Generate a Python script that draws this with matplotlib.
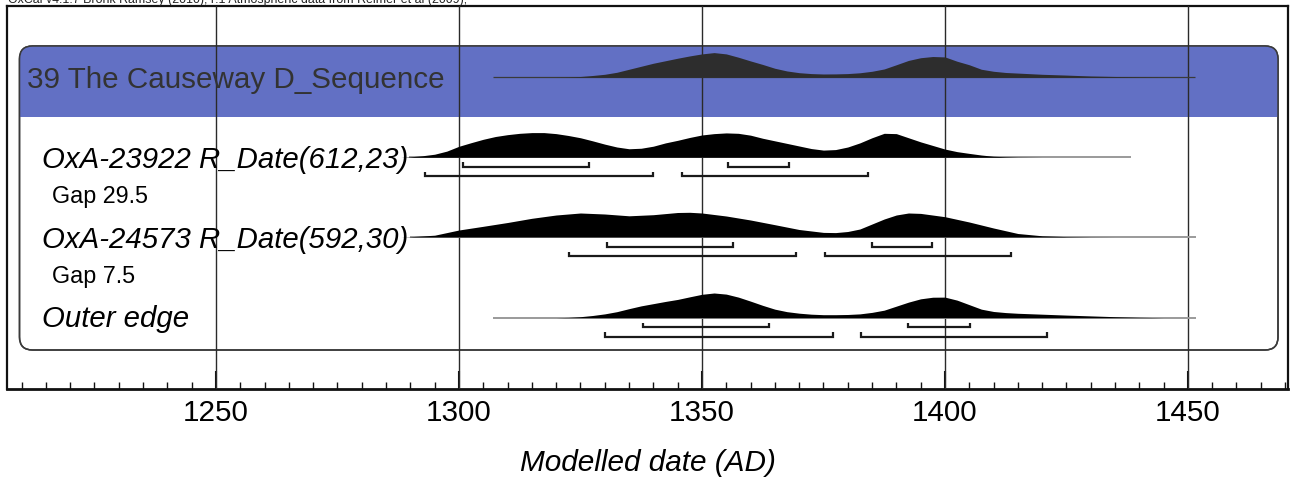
import matplotlib
matplotlib.use('Agg')
import matplotlib.pyplot as plt
from matplotlib.patches import FancyBboxPatch, Rectangle

plt.rcParams['font.family'] = ['Liberation Sans', 'DejaVu Sans']

# ---------------- data ----------------
title_text = "OxCal v4.1.7 Bronk Ramsey (2010); r:1 Atmospheric data from Reimer et al (2009);"
sequence_label = "39 The Causeway D_Sequence"
row_labels = ["OxA-23922 R_Date(612,23)", "OxA-24573 R_Date(592,30)", "Outer edge"]
gap_labels = ["Gap 29.5", "Gap 7.5"]
x_label = "Modelled date (AD)"
major_ticks = [1250, 1300, 1350, 1400, 1450]

seq_years = [1320, 1322.5, 1325, 1327.5, 1330, 1332.5, 1335, 1337.5, 1340, 1342.5,
             1345, 1347.5, 1350, 1352.5, 1355, 1357.5, 1360, 1362.5, 1365, 1367.5,
             1370, 1372.5, 1375, 1377.5, 1380, 1382.5, 1385, 1387.5, 1390, 1392.5,
             1395, 1397.5, 1400, 1402.5, 1405, 1407.5, 1410, 1412.5, 1415,
             1420, 1425, 1430, 1435, 1440, 1445]
seq_dens = [0, 0.2, 0.8, 1.8, 3.0, 5.0, 8.0, 11.0, 14.0, 16.5,
            19.0, 21.3, 23.3, 24.6, 23.3, 20.0, 16.3, 12.8, 9.0, 6.3,
            4.6, 3.7, 3.3, 3.4, 3.7, 4.5, 6.0, 8.3, 12.5, 16.8,
            19.5, 20.7, 20.3, 16.0, 12.5, 8.0, 6.0, 4.8, 4.2,
            3.0, 2.2, 1.3, 0.8, 0.3, 0]
seq_span = [1307.1, 1451.5]

oxa1_years = [1288, 1290, 1292.5, 1295, 1297.5, 1300, 1302.5, 1305, 1307.5, 1310,
              1312.5, 1315, 1317.5, 1320, 1322.5, 1325, 1327.5, 1330, 1332.5, 1335,
              1337.5, 1340, 1342.5, 1345, 1347.5, 1350, 1352.5, 1355, 1357.5, 1360,
              1362.5, 1365, 1367.5, 1370, 1372.5, 1375, 1377.5, 1380, 1382.5, 1385,
              1387.5, 1390, 1392.5, 1395, 1397.5, 1400, 1402.5, 1405, 1407.5, 1410,
              1412.5, 1415, 1420]
oxa1_dens = [0, 0.5, 1.5, 3.0, 6.0, 10.7, 14.2, 17.5, 20.2, 22.0,
             23.3, 24.0, 24.0, 23.0, 21.2, 19.0, 16.0, 12.8, 10.0, 8.3,
             8.8, 10.8, 14.0, 16.5, 19.3, 21.7, 23.0, 23.7, 23.3, 21.5,
             18.5, 16.0, 13.5, 11.0, 8.5, 7.0, 7.5, 10.0, 14.0, 19.0,
             23.3, 23.0, 19.0, 15.0, 11.5, 8.0, 5.5, 3.8, 2.2, 1.0,
             0.5, 0.2, 0]
oxa1_span = [1289.7, 1438.3]
oxa1_r68 = [(1300.8, 1326.7), (1355.3, 1368.0)]
oxa1_r95 = [(1293.1, 1339.9), (1345.8, 1384.2)]

oxa2_years = [1288, 1290, 1295, 1300, 1305, 1310, 1315, 1320, 1325, 1330,
              1335, 1340, 1345, 1347.5, 1350, 1355, 1360, 1365, 1370, 1375,
              1377.5, 1380, 1382.5, 1385, 1387.5, 1390, 1392.5, 1395, 1400, 1405,
              1410, 1415, 1420, 1425, 1430, 1435]
oxa2_dens = [0, 0.3, 1.8, 7.0, 10.7, 14.5, 18.7, 22.0, 24.0, 23.0,
             21.2, 22.3, 24.5, 24.7, 24.0, 21.0, 17.0, 12.3, 7.5, 4.6,
             4.4, 5.5, 8.0, 13.0, 18.0, 22.0, 24.0, 23.6, 20.3, 15.0,
             9.0, 3.5, 1.2, 0.4, 0.1, 0]
oxa2_span = [1289.9, 1451.7]
oxa2_r68 = [(1330.5, 1356.3), (1385.0, 1397.4)]
oxa2_r95 = [(1322.6, 1369.4), (1375.4, 1413.5)]

outer_years = seq_years
outer_dens = [0, 0.3, 1.0, 2.2, 3.8, 6.0, 9.0, 11.8, 14.0, 16.2,
              18.2, 20.8, 23.3, 24.6, 23.5, 20.5, 16.5, 12.3, 8.5, 6.0,
              4.5, 3.5, 3.0, 3.0, 3.2, 3.8, 5.3, 7.5, 11.5, 15.5,
              18.8, 20.4, 20.5, 17.5, 13.0, 8.5, 6.2, 5.1, 4.4,
              3.5, 2.6, 1.8, 1.0, 0.4, 0]
outer_span = [1307.1, 1451.7]
outer_r68 = [(1337.9, 1363.8), (1392.4, 1405.1)]
outer_r95 = [(1330.1, 1376.9), (1382.8, 1421.1)]

# ---------------- layout ----------------
W, H = 1291, 480
XMIN, XMAX = 1207.0, 1470.6
AX_L, AX_R, AX_T, AX_B = 7, 1288, 6, 389
PEAK_PX = 24.7

fig = plt.figure(figsize=(W / 100, H / 100), dpi=100)
ax = fig.add_axes([AX_L / W, 1 - AX_B / H, (AX_R - AX_L) / W, (AX_B - AX_T) / H])
ax.set_xlim(XMIN, XMAX)
ax.set_ylim(AX_B, AX_T)  # y in pixel rows (top = small)
PXPY = (AX_R - AX_L) / (XMAX - XMIN)


def px2yr(px):
    return XMIN + (px - AX_L) / PXPY


# rounded box with blue header band
bx0, bx1 = px2yr(19.5), px2yr(1278)
by0, by1 = 46, 350
rad_px = 13
box = FancyBboxPatch((bx0, by0), bx1 - bx0, by1 - by0,
                     boxstyle=f"round,pad=0,rounding_size={rad_px / PXPY}",
                     mutation_aspect=PXPY, facecolor='white', edgecolor='#3a3a3a',
                     lw=1.1, zorder=1)
ax.add_patch(box)
band = Rectangle((bx0, by0), bx1 - bx0, 117.5 - by0, facecolor='#6270C4',
                 edgecolor='none', zorder=1.5)
ax.add_patch(band)
band.set_clip_path(box)
box2 = FancyBboxPatch((bx0, by0), bx1 - bx0, by1 - by0,
                      boxstyle=f"round,pad=0,rounding_size={rad_px / PXPY}",
                      mutation_aspect=PXPY, facecolor='none', edgecolor='#3a3a3a',
                      lw=1.1, zorder=2)
ax.add_patch(box2)

# vertical grid lines
for t in major_ticks:
    ax.axvline(t, color='#2a2a2a', lw=1.0, zorder=3)


def draw_dist(years, dens, span, base, fill_color, line_color, line_w):
    m = max(dens)
    ax.plot(span, [base, base], color=line_color, lw=line_w, zorder=4,
            solid_capstyle='butt')
    ax.fill_between(years, [base] * len(years),
                    [base - d / m * PEAK_PX for d in dens],
                    color=fill_color, lw=0, zorder=5)


def draw_ranges(r68, r95, base):
    for rngs, off in ((r68, 9.6), (r95, 19.2)):
        y = base + off
        for a, b in rngs:
            ax.plot([a, a, b, b], [y - 4.5, y, y, y - 4.5], color='#1a1a1a',
                    lw=1.6, zorder=6, solid_joinstyle='miter', solid_capstyle='butt')


draw_dist(seq_years, seq_dens, seq_span, 77.3, '#2d2d2d', '#3a3a3a', 0.9)
draw_dist(oxa1_years, oxa1_dens, oxa1_span, 157.3, 'black', '#9a9a9a', 1.4)
draw_dist(oxa2_years, oxa2_dens, oxa2_span, 237.0, 'black', '#9a9a9a', 1.4)
draw_dist(outer_years, outer_dens, outer_span, 317.7, 'black', '#9a9a9a', 1.4)
draw_ranges(oxa1_r68, oxa1_r95, 157.3)
draw_ranges(oxa2_r68, oxa2_r95, 237.0)
draw_ranges(outer_r68, outer_r95, 317.7)

# labels
ax.text(px2yr(27), 88.3, sequence_label, fontsize=21.3, color='#333333',
        va='baseline', ha='left', zorder=7)
label_rows = [168.3, 248.3, 326.7]
for lab, yb in zip(row_labels, label_rows):
    ax.text(px2yr(42), yb, lab, fontsize=21.2, style='italic', color='black',
            va='baseline', ha='left', zorder=7)
for lab, yb in zip(gap_labels, [203.3, 283.3]):
    ax.text(px2yr(52), yb, lab, fontsize=16.8, color='black',
            va='baseline', ha='left', zorder=7)

# axes styling
for s in ['left', 'right', 'top']:
    ax.spines[s].set_linewidth(1.6)
    ax.spines[s].set_color('#111111')
ax.spines['bottom'].set_linewidth(2.0)
ax.spines['bottom'].set_color('#111111')
ax.set_yticks([])
ax.set_xticks(major_ticks)
ax.set_xticklabels([str(t) for t in major_ticks])
ax.set_xticks(list(range(1210, 1471, 5)), minor=True)
ax.tick_params(axis='x', which='major', direction='in', length=13, width=1.5,
               labelsize=21.3, pad=7.5, color='#111111')
ax.tick_params(axis='x', which='minor', direction='in', length=5, width=1.0,
               color='#111111')

fig.text(647.5 / W, 1 - 471 / H, x_label, fontsize=21.4, style='italic',
         ha='center', va='baseline')
fig.text(8 / W, 1 - 3.5 / H, title_text, fontsize=8.9, color='#222222',
         ha='left', va='baseline')

fig.savefig('out.png', dpi=100)
